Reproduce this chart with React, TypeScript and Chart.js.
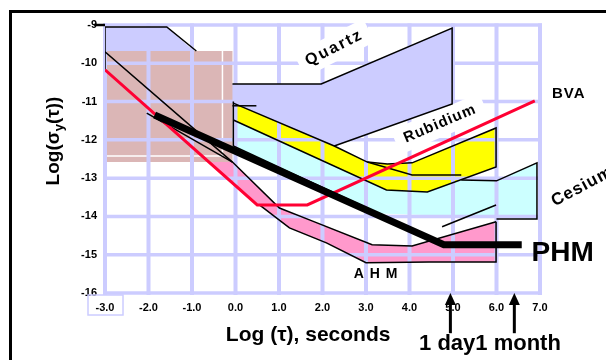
import React, { useEffect, useRef } from 'react';
import { Chart, registerables } from 'chart.js';

Chart.register(...registerables);

type Pt = { x: number; y: number };
const toPts = (a: number[][]): Pt[] => a.map(([x, y]) => ({ x, y }));

// ---- axes ----
const X_TICKS = [-3, -2, -1, 0, 1, 2, 3, 4, 5, 6, 7];
const Y_TICKS = [-9, -10, -11, -12, -13, -14, -15, -16];

// ---- regions (log tau, log sigma) ----
const quartzRegion = [[-3, -9.05], [-1.58, -9.05], [-0.1, -10.54], [1.97, -10.54], [4.98, -9.08], [4.98, -11.06], [2.27, -12.16], [-0.05, -11.04], [-3, -9.7]];
const rubidiumRegion = [[-0.05, -11.04], [2.27, -12.16], [3.03, -12.58], [3.49, -12.63], [4.06, -12.6], [5.99, -11.69], [5.99, -12.71], [4.41, -13.36], [3.47, -13.31], [-0.05, -11.48]];
const cesiumRegion = [[-0.05, -11.48], [3.47, -13.31], [4.41, -13.36], [5.19, -13.05], [6.0, -13.07], [6.93, -12.6], [6.93, -14.07], [3.2, -13.92], [-0.05, -12.16]];
const ahmRegion = [[-2.5, -10.15], [-0.07, -12.58], [1.01, -13.78], [1.7, -14.09], [3.14, -14.74], [4.06, -14.77], [5.99, -14.14], [5.99, -15.19], [4.45, -15.19], [3.0, -15.21], [2.09, -14.69], [1.24, -14.3], [0.55, -13.7], [-2.5, -10.67]];
const boxRegion = [[-2.96, -9.68], [-0.07, -9.68], [-0.07, -12.58], [-2.96, -12.58]];
const boxInner = [[-2.96, -12.42], [-0.3, -12.42], [-0.3, -9.68]];

// ---- curves ----
const quartzTopA = [[-3, -10.17], [-3, -9.05], [-1.58, -9.05], [-0.9, -9.68]];
const quartzTopB = [[-0.07, -10.54], [1.97, -10.54], [4.98, -9.08], [4.98, -11.06], [2.27, -12.16]];
const lineP = [[-3, -9.7], [-0.07, -12.58], [1.01, -13.78], [1.7, -14.09], [3.14, -14.74], [4.06, -14.77], [5.99, -14.14]];
const lineQ = [[-2.04, -11.3], [-0.07, -12.58]];
const rubOutline = [[-0.05, -11.04], [2.27, -12.16], [3.03, -12.58], [3.49, -12.63], [4.06, -12.6], [5.99, -11.69], [5.99, -12.71], [4.41, -13.36], [3.47, -13.31], [-0.05, -11.48]];
const leftEdge = [[-0.05, -11.0], [-0.05, -12.16]];
const shortTop = [[-0.07, -11.11], [0.48, -11.11]];
const rubInner = [[3.03, -12.58], [4.06, -12.92], [5.19, -12.92]];
const cesLower = [[-0.05, -12.16], [4.75, -14.69]];
const cesRight = [[5.19, -13.05], [6.0, -13.07], [6.93, -12.6], [6.93, -14.07], [6.0, -14.07]];
const cesRise = [[4.75, -14.27], [5.99, -13.7]];
const ahmLower = [[0.55, -13.7], [1.24, -14.3], [2.09, -14.69], [3.0, -15.21], [4.45, -15.19], [5.99, -15.19], [5.99, -14.14]];
const bva = [[-3, -10.17], [0.5, -13.7], [1.65, -13.7], [6.88, -10.98]];
const phm = [[-1.86, -11.35], [4.79, -14.74], [6.58, -14.74]];
const dayArrow = [[4.94, -17.05], [4.94, -16.2]];
const monthArrow = [[6.41, -17.05], [6.41, -16.2]];
const ARROW_X = [4.94, 6.41];
const ARROW_TIP_Y = -16.0;
const yTick9 = [[-3.25, -9], [-3, -9]];

// ---- annotations ----
const NOTES = [
  { text: 'Quartz', x: 2.27, y: -9.6, rot: -27, size: 16, spacing: 2, bg: [78, 26] },
  { text: 'Rubidium', x: 4.7, y: -11.58, rot: -23, size: 15, spacing: 1, bg: [96, 26] },
  { text: 'Cesium', x: 7.97, y: -13.22, rot: -28, size: 17, spacing: 1 },
  { text: 'BVA', x: 7.66, y: -10.8, rot: 0, size: 15, spacing: 1 },
  { text: 'PHM', x: 7.52, y: -14.95, rot: 0, size: 28, spacing: 0 },
  { text: 'A H M', x: 3.23, y: -15.5, rot: 0, size: 14, spacing: 1 },
  { text: 'Log (\u03c4), seconds', x: 1.67, y: -17.09, rot: 0, size: 21, spacing: 0 },
  { text: '1 day1 month', x: 5.85, y: -17.33, rot: 0, size: 22, spacing: 0 },
];
const Y_TITLE_POS = { x: -4.17, y: -12.03 };

const FONT = '"Liberation Sans", Arial, sans-serif';
const GRID = '#ccccff';

type DS = any;
const region = (d: number[][], color: string): DS => ({
  data: toPts(d), showLine: true, fill: 'shape', backgroundColor: color,
  borderColor: 'rgba(0,0,0,0)', borderWidth: 1, pointRadius: 0,
});
const curve = (d: number[][], color: string, width: number, extra: any = {}): DS => ({
  data: toPts(d), showLine: true, fill: false, borderColor: color, borderWidth: width,
  pointRadius: 0, borderJoinStyle: 'miter', ...extra,
});

const datasets: DS[] = [
  region(quartzRegion, '#ccccff'),
  region(rubidiumRegion, '#ffff00'),
  region(cesiumRegion, '#ccffff'),
  region(ahmRegion, '#ff99cc'),
  region(boxRegion, '#dbb6b6'),
  curve(boxInner, '#ffffff', 1.5),
  // ---- lines ----
  curve(quartzTopA, '#000', 1.5),
  curve(quartzTopB, '#000', 1.5),
  curve(lineP, '#000', 1.5),
  curve(lineQ, '#000', 1.5),
  curve(rubOutline, '#000', 1.5),
  curve(leftEdge, '#000', 1.5),
  curve(shortTop, '#000', 1.5),
  curve(rubInner, '#000', 1.5),
  curve(cesLower, '#000', 1.5),
  curve(cesRight, '#000', 1.5),
  curve(cesRise, '#000', 1.5),
  curve(ahmLower, '#000', 1.5),
  curve(bva, '#ff0033', 3),
  curve(phm, '#000', 7, { borderCapStyle: 'butt' }),
  curve(dayArrow, '#000', 3, { clip: false }),
  curve(monthArrow, '#000', 3, { clip: false }),
  curve(yTick9, '#000', 2.5, { clip: false }),
];
const BOX_INNER_INDEX = 5;
datasets.forEach((d, i) => { d.order = datasets.length - i; });

const decor = {
  id: 'decor',
  afterDatasetDraw(chart: any, args: any) {
    if (args.index !== BOX_INNER_INDEX) return;
    const { ctx, chartArea: a, scales: { x, y } } = chart;
    ctx.save();
    ctx.strokeStyle = GRID;
    ctx.lineCap = 'butt';
    ctx.lineWidth = 4;
    X_TICKS.forEach((v) => {
      const px = x.getPixelForValue(v);
      ctx.beginPath(); ctx.moveTo(px, a.top - 1.5); ctx.lineTo(px, a.bottom + 2); ctx.stroke();
    });
    ctx.lineWidth = 3.5;
    Y_TICKS.forEach((v) => {
      const py = y.getPixelForValue(v);
      ctx.beginPath(); ctx.moveTo(a.left - 2, py); ctx.lineTo(a.right + 2, py); ctx.stroke();
    });
    // label backgrounds
    ctx.fillStyle = '#fff';
    NOTES.forEach((n: any) => {
      if (!n.bg) return;
      ctx.save();
      ctx.translate(x.getPixelForValue(n.x), y.getPixelForValue(n.y));
      ctx.rotate((n.rot * Math.PI) / 180);
      ctx.fillRect(-n.bg[0] / 2, -n.bg[1] / 2, n.bg[0], n.bg[1]);
      ctx.restore();
    });
    ctx.restore();
  },
  afterDraw(chart: any) {
    const { ctx, scales: { x, y } } = chart;
    ctx.save();
    ctx.fillStyle = '#000';
    // arrow heads
    ARROW_X.forEach((v) => {
      const px = x.getPixelForValue(v);
      const py = y.getPixelForValue(ARROW_TIP_Y);
      ctx.beginPath();
      ctx.moveTo(px, py);
      ctx.lineTo(px + 5.5, py + 12);
      ctx.lineTo(px - 5.5, py + 12);
      ctx.closePath();
      ctx.fill();
    });
    ctx.textAlign = 'center';
    ctx.textBaseline = 'middle';
    NOTES.forEach((n: any) => {
      ctx.save();
      ctx.translate(x.getPixelForValue(n.x), y.getPixelForValue(n.y));
      ctx.rotate((n.rot * Math.PI) / 180);
      ctx.font = `bold ${n.size}px ${FONT}`;
      (ctx as any).letterSpacing = `${n.spacing}px`;
      ctx.fillText(n.text, 0, 0);
      ctx.restore();
    });
    // y title with subscript
    ctx.save();
    ctx.translate(x.getPixelForValue(Y_TITLE_POS.x), y.getPixelForValue(Y_TITLE_POS.y));
    ctx.rotate(-Math.PI / 2);
    const big = `bold 19px ${FONT}`;
    const small = `bold 13px ${FONT}`;
    const parts = [
      { t: 'Log(\u03c3', f: big, dy: 0 },
      { t: 'y', f: small, dy: 5 },
      { t: '(\u03c4))', f: big, dy: 0 },
    ];
    let total = 0;
    parts.forEach((p) => { ctx.font = p.f; total += ctx.measureText(p.t).width; });
    let cx = -total / 2;
    ctx.textAlign = 'left';
    parts.forEach((p) => {
      ctx.font = p.f;
      ctx.fillText(p.t, cx, p.dy);
      cx += ctx.measureText(p.t).width;
    });
    ctx.restore();
    // frame round the first x label
    const x0 = x.getPixelForValue(-3);
    const b = chart.chartArea.bottom;
    ctx.strokeStyle = GRID;
    ctx.lineWidth = 1.5;
    ctx.strokeRect(x0 - 17, b + 2, 35, 20);
    ctx.restore();
  },
};

export default function App() {
  const ref = useRef<HTMLCanvasElement>(null);
  useEffect(() => {
    const tickFont = { family: FONT, size: 11, weight: 'bold' as const };
    const chart = new Chart(ref.current as HTMLCanvasElement, {
      type: 'scatter',
      data: { datasets },
      options: {
        responsive: false,
        animation: false,
        layout: { padding: { top: 25, right: 66, left: 0, bottom: 0 } },
        plugins: { legend: { display: false }, tooltip: { enabled: false } },
        elements: { line: { tension: 0 } },
        scales: {
          x: {
            type: 'linear', min: -3, max: 7,
            grid: { display: false, drawTicks: false },
            border: { display: false },
            ticks: { stepSize: 1, autoSkip: false, maxRotation: 0, padding: 8, color: '#000', font: tickFont, callback: (v: any) => Number(v).toFixed(1) },
            afterFit: (s: any) => { s.height = 67; },
          },
          y: {
            type: 'linear', min: -16, max: -9,
            grid: { display: false, drawTicks: false },
            border: { display: false },
            ticks: { stepSize: 1, autoSkip: false, padding: 8, color: '#000', font: tickFont, callback: (v: any) => String(v) },
            afterFit: (s: any) => { s.width = 105; },
          },
        },
      },
      plugins: [decor],
    });
    return () => chart.destroy();
  }, []);
  return (
    <div style={{ position: 'fixed', left: 0, top: 0, width: 606, height: 360, overflow: 'hidden', background: '#fff' }}>
      <div style={{ position: 'absolute', left: 9, top: 10, width: 700, height: 500, border: '3px solid #000' }} />
      <canvas ref={ref} width={606} height={360} style={{ position: 'absolute', left: 0, top: 0, width: 606, height: 360 }} />
    </div>
  );
}
